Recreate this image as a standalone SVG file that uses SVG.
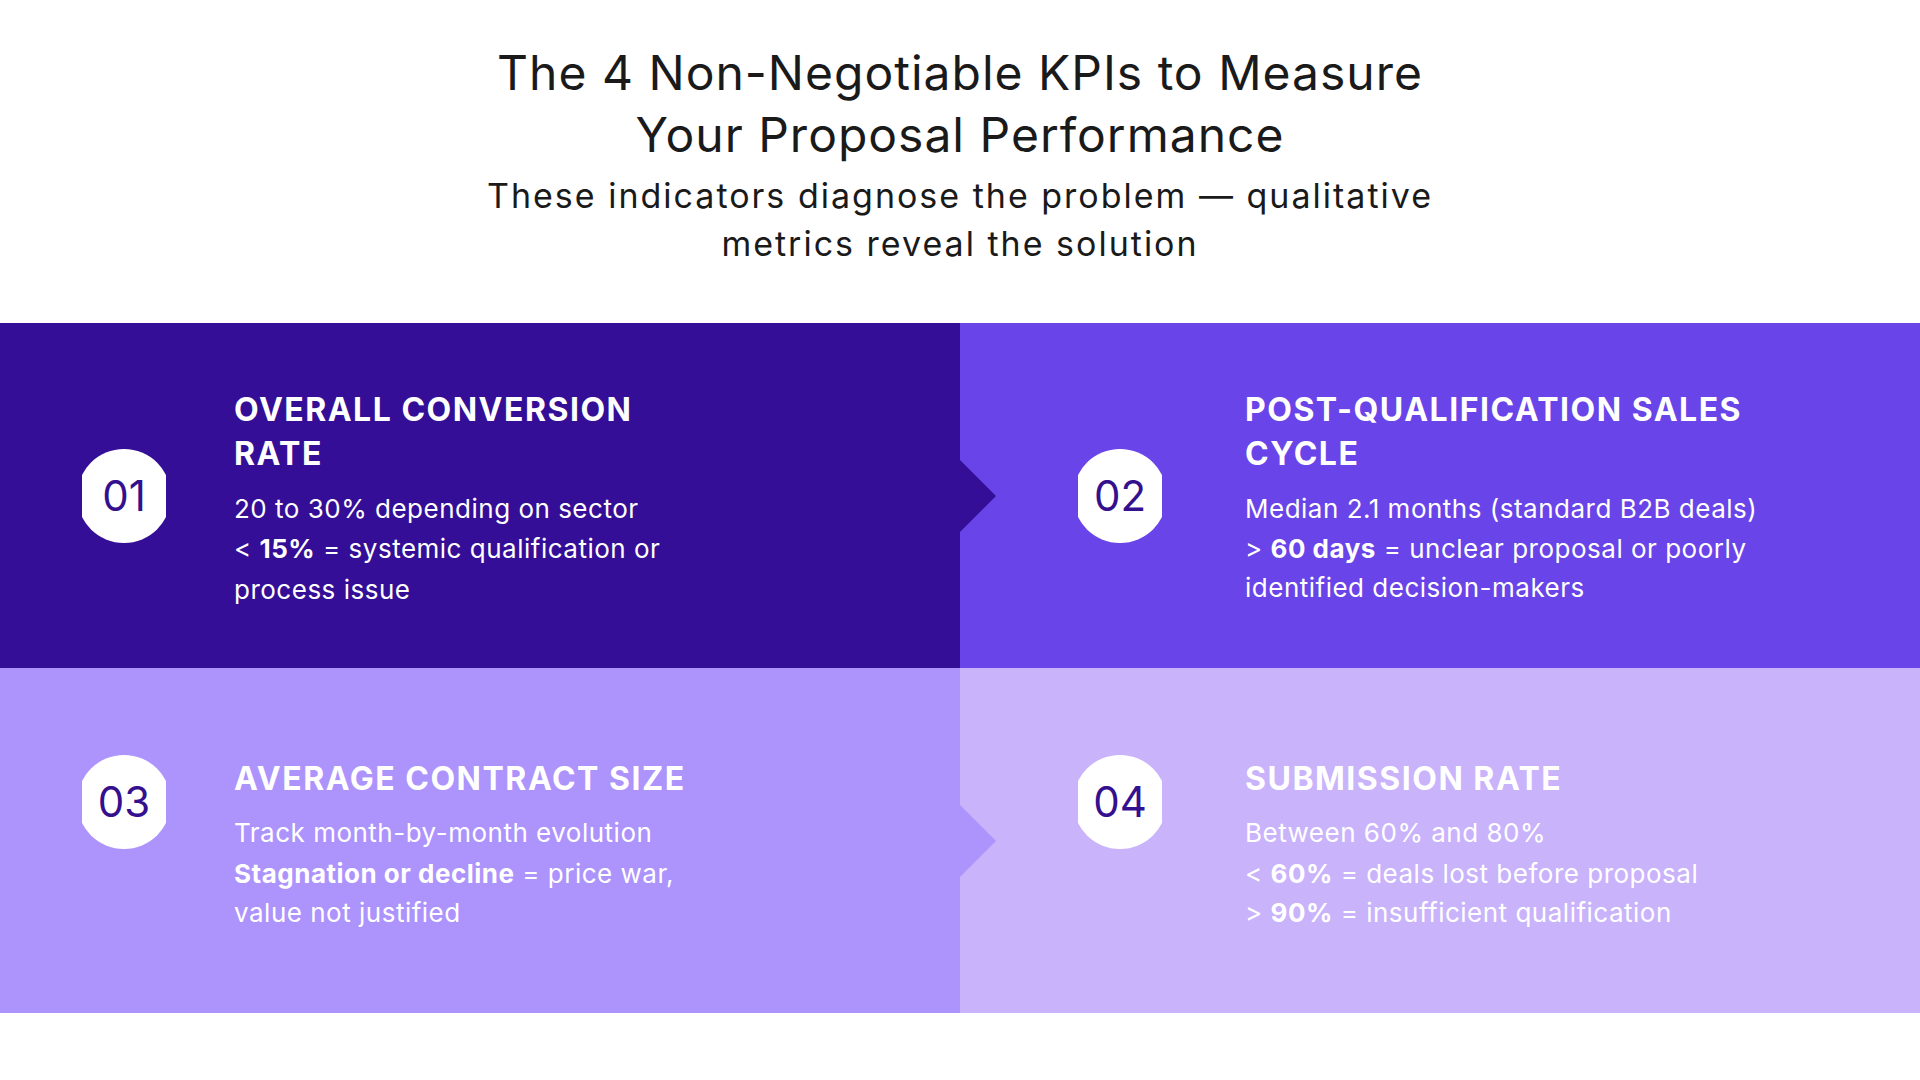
<svg xmlns="http://www.w3.org/2000/svg" width="1920" height="1080" viewBox="0 0 1920 1080">
<style>
.t{font-family:Inter,"Open Sans",sans-serif;fill:#1a1a1a;text-anchor:middle}
.h{font-family:Inter,"Open Sans",sans-serif;font-weight:700;font-size:32px;fill:#fff;letter-spacing:1.5px}
.b{font-family:Inter,"Open Sans",sans-serif;font-size:26px;fill:#fff;letter-spacing:0.5px}
.b tspan.s{font-weight:700}
.n{font-family:Inter,"Open Sans",sans-serif;font-size:42px;fill:#34108f;text-anchor:middle}
</style>
<defs>
<clipPath id="bc"><rect x="-42" y="-60" width="84" height="120"/></clipPath>
<g id="badge"><circle r="47" fill="#fff" clip-path="url(#bc)"/></g>
</defs>
<rect width="1920" height="1080" fill="#fff"/>
<g id="title">
<text class="t" x="960" y="90" font-size="48" letter-spacing="1">The 4 Non-Negotiable KPIs to Measure</text>
<text class="t" x="960" y="152" font-size="48" letter-spacing="1">Your Proposal Performance</text>
<text class="t" x="960" y="208" font-size="34" letter-spacing="2">These indicators diagnose the problem — qualitative</text>
<text class="t" x="960" y="256" font-size="34" letter-spacing="2">metrics reveal the solution</text>
</g>
<g id="panels">
<rect x="960" y="323" width="960" height="345" fill="#6944e8"/>
<rect x="960" y="668" width="960" height="345" fill="#c9b3fb"/>
<path d="M0 323H960V460L996 496L960 532V668H0Z" fill="#340e96"/>
<path d="M0 668H960V805L996 841L960 877V1013H0Z" fill="#ad93fc"/>
</g>
<g id="kpi1">
<use href="#badge" x="124" y="496"/>
<text class="n" x="124" y="511">01</text>
<text class="h" x="234" y="421">OVERALL CONVERSION</text>
<text class="h" x="234" y="465">RATE</text>
<text class="b" x="234" y="518">20 to 30% depending on sector</text>
<text class="b" x="234" y="558">&lt; <tspan class="s">15%</tspan> = systemic qualification or</text>
<text class="b" x="234" y="599">process issue</text>
</g>
<g id="kpi2">
<use href="#badge" x="1120" y="496"/>
<text class="n" x="1120" y="511">02</text>
<text class="h" x="1245" y="421">POST-QUALIFICATION SALES</text>
<text class="h" x="1245" y="465">CYCLE</text>
<text class="b" x="1245" y="518">Median 2.1 months (standard B2B deals)</text>
<text class="b" x="1245" y="558">&gt; <tspan class="s">60 days</tspan> = unclear proposal or poorly</text>
<text class="b" x="1245" y="597">identified decision-makers</text>
</g>
<g id="kpi3">
<use href="#badge" x="124" y="802"/>
<text class="n" x="124" y="817">03</text>
<text class="h" x="234" y="790">AVERAGE CONTRACT SIZE</text>
<text class="b" x="234" y="842">Track month-by-month evolution</text>
<text class="b" x="234" y="883"><tspan class="s">Stagnation or decline</tspan> = price war,</text>
<text class="b" x="234" y="922">value not justified</text>
</g>
<g id="kpi4">
<use href="#badge" x="1120" y="802"/>
<text class="n" x="1120" y="817">04</text>
<text class="h" x="1245" y="790">SUBMISSION RATE</text>
<text class="b" x="1245" y="842">Between 60% and 80%</text>
<text class="b" x="1245" y="883">&lt; <tspan class="s">60%</tspan> = deals lost before proposal</text>
<text class="b" x="1245" y="922">&gt; <tspan class="s">90%</tspan> = insufficient qualification</text>
</g>
<g id="connectors"/>
</svg>
